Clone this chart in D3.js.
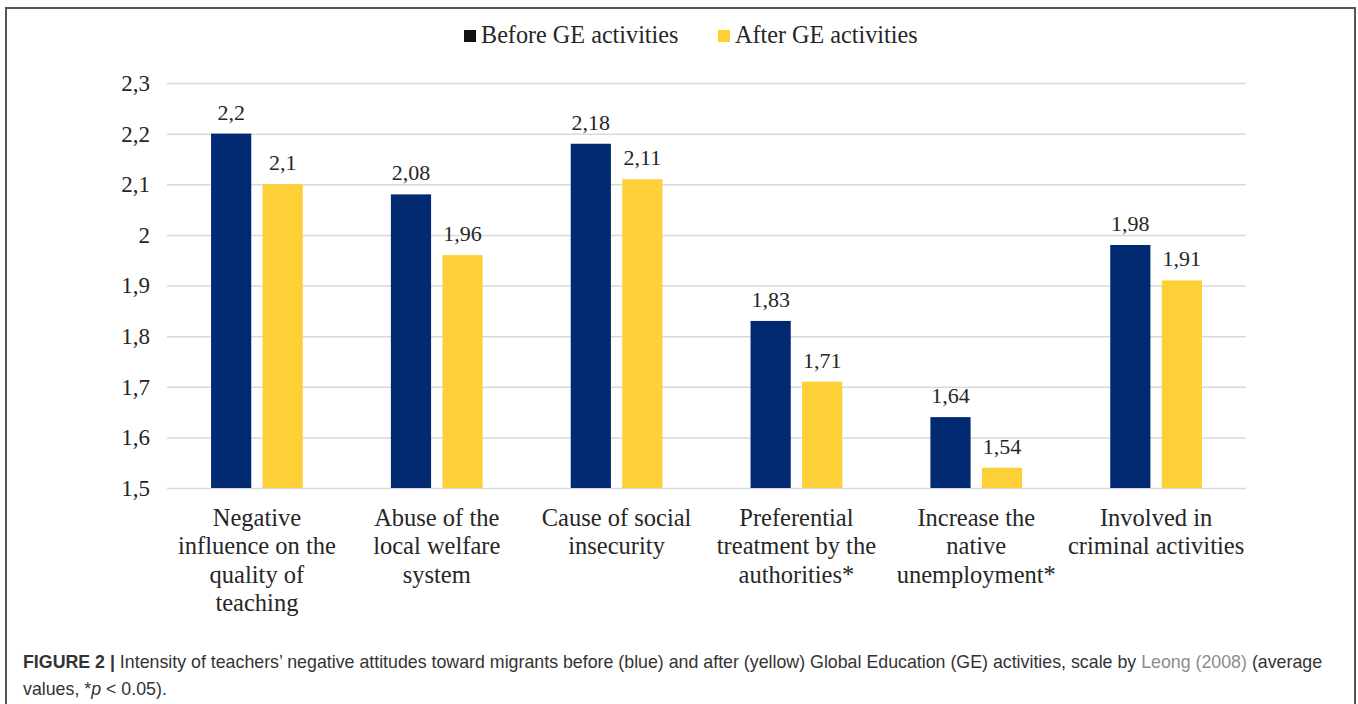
<!DOCTYPE html>
<html>
<head>
<meta charset="utf-8">
<script src="https://cdn.jsdelivr.net/npm/d3@7"></script>
<style>
  html, body { margin: 0; padding: 0; background: #fff; }
  svg { display: block; }
</style>
</head>
<body>
<div id="chart"></div>
<script>

// DATA

const categories = [
    ['Negative', 'influence on the', 'quality of', 'teaching'],
    ['Abuse of the', 'local welfare', 'system'],
    ['Cause of social', 'insecurity'],
    ['Preferential', 'treatment by the', 'authorities*'],
    ['Increase the', 'native', 'unemployment*'],
    ['Involved in', 'criminal activities']
];
const before = [2.2, 2.08, 2.18, 1.83, 1.64, 1.98];
const after = [2.1, 1.96, 2.11, 1.71, 1.54, 1.91];
const seriesNames = ['Before GE activities', 'After GE activities'];
const yTicks = [1.5, 1.6, 1.7, 1.8, 1.9, 2, 2.1, 2.2, 2.3];

// CHART

const width = 1358;
const height = 704;
const margin = {top: 83, right: 112, bottom: 216, left: 167};

const blue = '#012a72';
const yellow = '#fdd037';
const ink = '#262626';

const comma = d => String(+d.toFixed(2)).replace('.', ',');

const svg = d3.select('#chart')
    .append('svg')
        .attr('width', width)
        .attr('height', height);

// frame of the figure
svg.append('path')
    .attr('d', `M6,${height + 5} V8 H1355 V${height + 5}`)
    .attr('fill', 'none')
    .attr('stroke', '#555')
    .attr('stroke-width', 2);

const x0 = d3.scaleBand()
    .domain(d3.range(categories.length))
    .range([margin.left, width - margin.right])
    .paddingInner(0.49)
    .paddingOuter(0.245);

const x1 = d3.scaleBand()
    .domain([0, 1])
    .range([0, x0.bandwidth()])
    .paddingInner(0.22);

const y = d3.scaleLinear()
    .domain([1.5, 2.3])
    .range([height - margin.bottom, margin.top]);

// grid + y labels
const yy = g =>
    g
        .attr('transform', `translate(${margin.left},0)`)
        .call(d3.axisLeft(y)
            .tickValues(yTicks)
            .tickFormat(comma)
            .tickSize(-(width - margin.right - margin.left))
            .tickPadding(17))
        .call(g => g.select('.domain').remove())
        .call(g => g.selectAll('.tick line')
            .attr('stroke', '#d9d9d9')
            .attr('stroke-width', 1.5))
        .call(g => g.selectAll('.tick text')
            .attr('fill', ink)
            .attr('font-family', '"Liberation Serif", "Times New Roman", serif')
            .attr('font-size', 23));

svg.append('g')
    .call(yy);

// bars
const rows = categories.map((c, i) => [before[i], after[i]]);
const colors = [blue, yellow];

const groups = svg.append('g')
    .selectAll('g')
    .data(rows)
    .join('g')
        .attr('transform', (d, i) => `translate(${x0(i)},0)`);

groups.selectAll('rect')
    .data(d => d)
    .join('rect')
        .attr('x', (d, j) => x1(j))
        .attr('y', d => y(d))
        .attr('width', x1.bandwidth())
        .attr('height', d => y(1.5) - y(d))
        .attr('fill', (d, j) => colors[j]);

groups.selectAll('text')
    .data(d => d)
    .join('text')
        .attr('x', (d, j) => x1(j) + x1.bandwidth() / 2)
        .attr('y', d => y(d) - 14)
        .attr('text-anchor', 'middle')
        .attr('fill', ink)
        .attr('font-family', '"Liberation Serif", "Times New Roman", serif')
        .attr('font-size', 22)
        .text(comma);

// category labels
svg.append('g')
    .selectAll('text')
    .data(categories)
    .join('text')
        .attr('x', (d, i) => x0(i) + x0.bandwidth() / 2)
        .attr('y', y(1.5) + 38)
        .attr('text-anchor', 'middle')
        .attr('fill', ink)
        .attr('font-family', '"Liberation Serif", "Times New Roman", serif')
        .attr('font-size', 24.5)
        .selectAll('tspan')
        .data(d => d)
        .join('tspan')
            .attr('x', function() { return this.parentNode.getAttribute('x'); })
            .attr('dy', (d, k) => k === 0 ? 0 : 28.4)
            .text(d => d);

// LEGEND

const legendX = [464, 718];
const legendSwatch = ['#111', yellow];

const legend = svg.append('g')
    .selectAll('g')
    .data(seriesNames)
    .join('g')
        .attr('transform', (d, i) => `translate(${legendX[i]},30)`);

legend.append('rect')
    .attr('width', 12)
    .attr('height', 12)
    .attr('fill', (d, i) => legendSwatch[i]);

legend.append('text')
    .attr('x', 17)
    .attr('y', 13)
    .attr('fill', ink)
    .attr('font-family', '"Liberation Serif", "Times New Roman", serif')
    .attr('font-size', 24.2)
    .text(d => d);

// CAPTION

const caption = svg.append('g')
    .attr('font-family', '"Liberation Sans", Arial, Helvetica, sans-serif')
    .attr('font-size', 17.8)
    .attr('fill', '#333');

const line1 = caption.append('text')
    .attr('x', 23)
    .attr('y', 668);
line1.append('tspan').attr('font-weight', 'bold').text('FIGURE 2 | ');
line1.append('tspan').text('Intensity of teachers\u2019 negative attitudes toward migrants before (blue) and after (yellow) Global Education (GE) activities, scale by ');
line1.append('tspan').attr('fill', '#8c8c8c').text('Leong (2008)');
line1.append('tspan').text(' (average');

const line2 = caption.append('text')
    .attr('x', 23)
    .attr('y', 695);
line2.append('tspan').text('values, *');
line2.append('tspan').attr('font-style', 'italic').text('p');
line2.append('tspan').text(' < 0.05).');

</script>
</body>
</html>
